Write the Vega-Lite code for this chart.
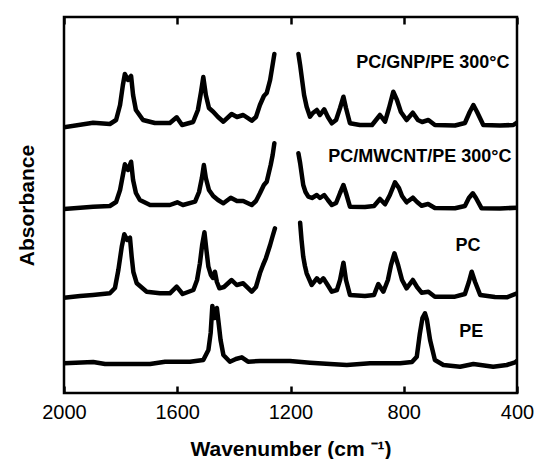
{
  "$schema": "https://vega.github.io/schema/vega-lite/v6.json",
  "width": 453,
  "height": 376,
  "autosize": "none",
  "padding": {"left": 64, "top": 17, "right": 19, "bottom": 66},
  "config": {
    "font": "Liberation Sans",
    "view": {"stroke": "black", "strokeWidth": 2.5},
    "axis": {"grid": false, "domain": false}
  },
  "datasets": {
    "spectra": [
      {"seg":"GNP-a","w":2000,"a":2.657},{"seg":"GNP-a","w":1897,"a":2.703},{"seg":"GNP-a","w":1838,"a":2.69},{"seg":"GNP-a","w":1816,"a":2.73},{"seg":"GNP-a","w":1802,"a":2.88},{"seg":"GNP-a","w":1792,"a":3.08},{"seg":"GNP-a","w":1785,"a":3.19},{"seg":"GNP-a","w":1774,"a":3.13},{"seg":"GNP-a","w":1763,"a":3.17},{"seg":"GNP-a","w":1756,"a":2.98},{"seg":"GNP-a","w":1746,"a":2.83},{"seg":"GNP-a","w":1721,"a":2.73},{"seg":"GNP-a","w":1679,"a":2.70},{"seg":"GNP-a","w":1626,"a":2.70},{"seg":"GNP-a","w":1602,"a":2.757},{"seg":"GNP-a","w":1583,"a":2.68},{"seg":"GNP-a","w":1544,"a":2.71},{"seg":"GNP-a","w":1527,"a":2.83},{"seg":"GNP-a","w":1516,"a":3.01},{"seg":"GNP-a","w":1508,"a":3.16},{"seg":"GNP-a","w":1499,"a":2.98},{"seg":"GNP-a","w":1488,"a":2.85},{"seg":"GNP-a","w":1473,"a":2.813},{"seg":"GNP-a","w":1456,"a":2.76},{"seg":"GNP-a","w":1437,"a":2.713},{"seg":"GNP-a","w":1408,"a":2.79},{"seg":"GNP-a","w":1389,"a":2.76},{"seg":"GNP-a","w":1367,"a":2.78},{"seg":"GNP-a","w":1337,"a":2.723},{"seg":"GNP-a","w":1322,"a":2.76},{"seg":"GNP-a","w":1308,"a":2.88},{"seg":"GNP-a","w":1294,"a":2.97},{"seg":"GNP-a","w":1284,"a":3.00},{"seg":"GNP-a","w":1272,"a":3.13},{"seg":"GNP-a","w":1265,"a":3.25},{"seg":"GNP-a","w":1257,"a":3.39},
      {"seg":"GNP-b","w":1172,"a":3.39},{"seg":"GNP-b","w":1166,"a":3.28},{"seg":"GNP-b","w":1159,"a":3.13},{"seg":"GNP-b","w":1152,"a":2.98},{"seg":"GNP-b","w":1143,"a":2.863},{"seg":"GNP-b","w":1131,"a":2.763},{"seg":"GNP-b","w":1121,"a":2.80},{"seg":"GNP-b","w":1107,"a":2.83},{"seg":"GNP-b","w":1096,"a":2.78},{"seg":"GNP-b","w":1081,"a":2.837},{"seg":"GNP-b","w":1068,"a":2.76},{"seg":"GNP-b","w":1054,"a":2.697},{"seg":"GNP-b","w":1039,"a":2.73},{"seg":"GNP-b","w":1025,"a":2.85},{"seg":"GNP-b","w":1013,"a":2.963},{"seg":"GNP-b","w":1004,"a":2.85},{"seg":"GNP-b","w":990,"a":2.697},{"seg":"GNP-b","w":955,"a":2.68},{"seg":"GNP-b","w":912,"a":2.68},{"seg":"GNP-b","w":884,"a":2.78},{"seg":"GNP-b","w":866,"a":2.713},{"seg":"GNP-b","w":852,"a":2.85},{"seg":"GNP-b","w":837,"a":3.013},{"seg":"GNP-b","w":824,"a":2.93},{"seg":"GNP-b","w":810,"a":2.81},{"seg":"GNP-b","w":790,"a":2.73},{"seg":"GNP-b","w":768,"a":2.803},{"seg":"GNP-b","w":750,"a":2.73},{"seg":"GNP-b","w":735,"a":2.71},{"seg":"GNP-b","w":713,"a":2.73},{"seg":"GNP-b","w":690,"a":2.68},{"seg":"GNP-b","w":619,"a":2.675},{"seg":"GNP-b","w":584,"a":2.70},{"seg":"GNP-b","w":567,"a":2.81},{"seg":"GNP-b","w":554,"a":2.88},{"seg":"GNP-b","w":541,"a":2.81},{"seg":"GNP-b","w":519,"a":2.68},{"seg":"GNP-b","w":460,"a":2.675},{"seg":"GNP-b","w":413,"a":2.68},{"seg":"GNP-b","w":400,"a":2.705},

      {"seg":"MW-a","w":2000,"a":1.84},{"seg":"MW-a","w":1897,"a":1.863},{"seg":"MW-a","w":1838,"a":1.87},{"seg":"MW-a","w":1816,"a":1.91},{"seg":"MW-a","w":1802,"a":2.03},{"seg":"MW-a","w":1792,"a":2.18},{"seg":"MW-a","w":1785,"a":2.287},{"seg":"MW-a","w":1774,"a":2.23},{"seg":"MW-a","w":1763,"a":2.313},{"seg":"MW-a","w":1756,"a":2.13},{"seg":"MW-a","w":1746,"a":2.00},{"seg":"MW-a","w":1732,"a":1.93},{"seg":"MW-a","w":1696,"a":1.88},{"seg":"MW-a","w":1626,"a":1.88},{"seg":"MW-a","w":1600,"a":1.907},{"seg":"MW-a","w":1580,"a":1.88},{"seg":"MW-a","w":1537,"a":1.913},{"seg":"MW-a","w":1523,"a":2.01},{"seg":"MW-a","w":1513,"a":2.15},{"seg":"MW-a","w":1506,"a":2.28},{"seg":"MW-a","w":1499,"a":2.15},{"seg":"MW-a","w":1488,"a":2.03},{"seg":"MW-a","w":1473,"a":1.97},{"seg":"MW-a","w":1456,"a":1.93},{"seg":"MW-a","w":1437,"a":1.897},{"seg":"MW-a","w":1411,"a":1.953},{"seg":"MW-a","w":1389,"a":1.92},{"seg":"MW-a","w":1367,"a":1.92},{"seg":"MW-a","w":1337,"a":1.88},{"seg":"MW-a","w":1322,"a":1.92},{"seg":"MW-a","w":1308,"a":1.997},{"seg":"MW-a","w":1294,"a":2.08},{"seg":"MW-a","w":1284,"a":2.113},{"seg":"MW-a","w":1270,"a":2.28},{"seg":"MW-a","w":1263,"a":2.38},{"seg":"MW-a","w":1257,"a":2.497},
      {"seg":"MW-b","w":1172,"a":2.397},{"seg":"MW-b","w":1166,"a":2.30},{"seg":"MW-b","w":1155,"a":2.08},{"seg":"MW-b","w":1147,"a":2.01},{"seg":"MW-b","w":1137,"a":1.963},{"seg":"MW-b","w":1124,"a":1.95},{"seg":"MW-b","w":1107,"a":1.98},{"seg":"MW-b","w":1096,"a":1.95},{"seg":"MW-b","w":1081,"a":1.98},{"seg":"MW-b","w":1068,"a":1.93},{"seg":"MW-b","w":1054,"a":1.88},{"seg":"MW-b","w":1039,"a":1.90},{"seg":"MW-b","w":1025,"a":2.00},{"seg":"MW-b","w":1013,"a":2.08},{"seg":"MW-b","w":1004,"a":2.00},{"seg":"MW-b","w":990,"a":1.863},{"seg":"MW-b","w":937,"a":1.86},{"seg":"MW-b","w":905,"a":1.87},{"seg":"MW-b","w":884,"a":1.94},{"seg":"MW-b","w":866,"a":1.887},{"seg":"MW-b","w":849,"a":1.98},{"seg":"MW-b","w":831,"a":2.107},{"seg":"MW-b","w":817,"a":2.05},{"seg":"MW-b","w":806,"a":1.97},{"seg":"MW-b","w":790,"a":1.907},{"seg":"MW-b","w":768,"a":1.953},{"seg":"MW-b","w":753,"a":1.91},{"seg":"MW-b","w":737,"a":1.873},{"seg":"MW-b","w":714,"a":1.89},{"seg":"MW-b","w":690,"a":1.85},{"seg":"MW-b","w":619,"a":1.847},{"seg":"MW-b","w":584,"a":1.87},{"seg":"MW-b","w":570,"a":1.95},{"seg":"MW-b","w":556,"a":1.997},{"seg":"MW-b","w":545,"a":1.95},{"seg":"MW-b","w":525,"a":1.847},{"seg":"MW-b","w":460,"a":1.845},{"seg":"MW-b","w":400,"a":1.853},

      {"seg":"PC-a","w":2000,"a":0.953},{"seg":"PC-a","w":1943,"a":0.97},{"seg":"PC-a","w":1898,"a":0.98},{"seg":"PC-a","w":1838,"a":0.997},{"seg":"PC-a","w":1820,"a":1.05},{"seg":"PC-a","w":1808,"a":1.23},{"seg":"PC-a","w":1796,"a":1.463},{"seg":"PC-a","w":1787,"a":1.587},{"seg":"PC-a","w":1777,"a":1.53},{"seg":"PC-a","w":1767,"a":1.553},{"seg":"PC-a","w":1761,"a":1.363},{"seg":"PC-a","w":1755,"a":1.21},{"seg":"PC-a","w":1743,"a":1.097},{"seg":"PC-a","w":1708,"a":1.013},{"seg":"PC-a","w":1661,"a":0.997},{"seg":"PC-a","w":1626,"a":0.997},{"seg":"PC-a","w":1602,"a":1.063},{"seg":"PC-a","w":1581,"a":0.99},{"seg":"PC-a","w":1543,"a":1.03},{"seg":"PC-a","w":1530,"a":1.13},{"seg":"PC-a","w":1520,"a":1.297},{"seg":"PC-a","w":1512,"a":1.48},{"seg":"PC-a","w":1504,"a":1.607},{"seg":"PC-a","w":1497,"a":1.43},{"seg":"PC-a","w":1490,"a":1.263},{"seg":"PC-a","w":1481,"a":1.18},{"seg":"PC-a","w":1474,"a":1.15},{"seg":"PC-a","w":1467,"a":1.213},{"seg":"PC-a","w":1460,"a":1.11},{"seg":"PC-a","w":1451,"a":1.047},{"seg":"PC-a","w":1435,"a":1.06},{"seg":"PC-a","w":1408,"a":1.13},{"seg":"PC-a","w":1390,"a":1.08},{"seg":"PC-a","w":1367,"a":1.097},{"seg":"PC-a","w":1337,"a":1.013},{"seg":"PC-a","w":1322,"a":1.06},{"seg":"PC-a","w":1308,"a":1.197},{"seg":"PC-a","w":1297,"a":1.28},{"seg":"PC-a","w":1287,"a":1.347},{"seg":"PC-a","w":1272,"a":1.48},{"seg":"PC-a","w":1264,"a":1.56},{"seg":"PC-a","w":1255,"a":1.647},
      {"seg":"PC-b","w":1166,"a":1.703},{"seg":"PC-b","w":1161,"a":1.53},{"seg":"PC-b","w":1155,"a":1.363},{"seg":"PC-b","w":1149,"a":1.27},{"seg":"PC-b","w":1143,"a":1.197},{"seg":"PC-b","w":1125,"a":1.08},{"seg":"PC-b","w":1107,"a":1.147},{"seg":"PC-b","w":1096,"a":1.11},{"seg":"PC-b","w":1084,"a":1.147},{"seg":"PC-b","w":1071,"a":1.09},{"seg":"PC-b","w":1054,"a":1.013},{"seg":"PC-b","w":1036,"a":1.03},{"seg":"PC-b","w":1025,"a":1.13},{"seg":"PC-b","w":1013,"a":1.303},{"seg":"PC-b","w":1004,"a":1.13},{"seg":"PC-b","w":990,"a":0.98},{"seg":"PC-b","w":937,"a":0.97},{"seg":"PC-b","w":905,"a":0.98},{"seg":"PC-b","w":890,"a":1.09},{"seg":"PC-b","w":872,"a":1.013},{"seg":"PC-b","w":856,"a":1.13},{"seg":"PC-b","w":845,"a":1.28},{"seg":"PC-b","w":833,"a":1.397},{"seg":"PC-b","w":820,"a":1.28},{"seg":"PC-b","w":806,"a":1.13},{"seg":"PC-b","w":790,"a":1.047},{"seg":"PC-b","w":768,"a":1.13},{"seg":"PC-b","w":753,"a":1.06},{"seg":"PC-b","w":737,"a":1.003},{"seg":"PC-b","w":713,"a":1.013},{"seg":"PC-b","w":690,"a":0.963},{"seg":"PC-b","w":619,"a":0.963},{"seg":"PC-b","w":584,"a":0.99},{"seg":"PC-b","w":570,"a":1.11},{"seg":"PC-b","w":560,"a":1.213},{"seg":"PC-b","w":548,"a":1.11},{"seg":"PC-b","w":530,"a":0.98},{"seg":"PC-b","w":478,"a":0.96},{"seg":"PC-b","w":436,"a":0.957},{"seg":"PC-b","w":400,"a":0.997},

      {"seg":"PE","w":2000,"a":0.297},{"seg":"PE","w":1897,"a":0.31},{"seg":"PE","w":1855,"a":0.29},{"seg":"PE","w":1696,"a":0.29},{"seg":"PE","w":1643,"a":0.313},{"seg":"PE","w":1555,"a":0.313},{"seg":"PE","w":1508,"a":0.33},{"seg":"PE","w":1490,"a":0.43},{"seg":"PE","w":1482,"a":0.60},{"seg":"PE","w":1476,"a":0.87},{"seg":"PE","w":1468,"a":0.75},{"seg":"PE","w":1460,"a":0.85},{"seg":"PE","w":1453,"a":0.68},{"seg":"PE","w":1447,"a":0.53},{"seg":"PE","w":1437,"a":0.38},{"seg":"PE","w":1414,"a":0.313},{"seg":"PE","w":1393,"a":0.34},{"seg":"PE","w":1372,"a":0.357},{"seg":"PE","w":1350,"a":0.313},{"seg":"PE","w":1308,"a":0.32},{"seg":"PE","w":1202,"a":0.32},{"seg":"PE","w":1131,"a":0.303},{"seg":"PE","w":1060,"a":0.29},{"seg":"PE","w":1001,"a":0.28},{"seg":"PE","w":919,"a":0.297},{"seg":"PE","w":813,"a":0.297},{"seg":"PE","w":771,"a":0.31},{"seg":"PE","w":754,"a":0.363},{"seg":"PE","w":743,"a":0.597},{"seg":"PE","w":734,"a":0.75},{"seg":"PE","w":725,"a":0.797},{"seg":"PE","w":718,"a":0.73},{"seg":"PE","w":707,"a":0.53},{"seg":"PE","w":690,"a":0.33},{"seg":"PE","w":660,"a":0.28},{"seg":"PE","w":601,"a":0.263},{"seg":"PE","w":554,"a":0.29},{"seg":"PE","w":484,"a":0.263},{"seg":"PE","w":436,"a":0.28},{"seg":"PE","w":407,"a":0.307},{"seg":"PE","w":400,"a":0.32}
    ],
    "labels": [
      {"text": "PC/GNP/PE 300°C", "w": 697, "a": 3.303},
      {"text": "PC/MWCNT/PE 300°C", "w": 743, "a": 2.363},
      {"text": "PC", "w": 573, "a": 1.47},
      {"text": "PE", "w": 562, "a": 0.607}
    ]
  },
  "layer": [
    {
      "data": {"name": "spectra"},
      "mark": {"type": "line", "color": "black", "strokeWidth": 4.5, "strokeCap": "round", "strokeJoin": "round", "clip": true},
      "encoding": {
        "x": {
          "field": "w", "type": "quantitative",
          "scale": {"domain": [400, 2000], "reverse": true, "nice": false, "zero": false},
          "axis": {
            "orient": "bottom",
            "values": [2000, 1600, 1200, 800, 400],
            "format": "d",
            "title": "Wavenumber (cm ⁻¹)",
            "titleFontSize": 21, "titleFontWeight": "bold", "titleColor": "black",
            "titleY": 45,
            "labelFontSize": 20, "labelColor": "black", "labelPadding": 16,
            "labelFlush": false, "labelOverlap": false,
            "tickSize": -7, "tickWidth": 2.5, "tickColor": "black"
          }
        },
        "y": {
          "field": "a", "type": "quantitative",
          "scale": {"domain": [0, 3.76], "nice": false, "zero": false},
          "axis": {
            "title": "Absorbance",
            "titleFontSize": 21, "titleFontWeight": "bold", "titleColor": "black",
            "titleX": -27,
            "labels": false, "ticks": false
          }
        },
        "detail": {"field": "seg", "type": "nominal"}
      }
    },
    {
      "data": {"name": "labels"},
      "mark": {"type": "text", "fontSize": 18, "fontWeight": "bold", "color": "black", "align": "center", "baseline": "middle"},
      "encoding": {
        "x": {
          "field": "w", "type": "quantitative",
          "axis": {
            "orient": "top",
            "values": [2000, 1600, 1200, 800, 400],
            "labels": false, "title": null,
            "tickSize": -7, "tickWidth": 2.5, "tickColor": "black"
          }
        },
        "y": {"field": "a", "type": "quantitative"},
        "text": {"field": "text"}
      }
    }
  ],
  "resolve": {"axis": {"x": "independent"}}
}
